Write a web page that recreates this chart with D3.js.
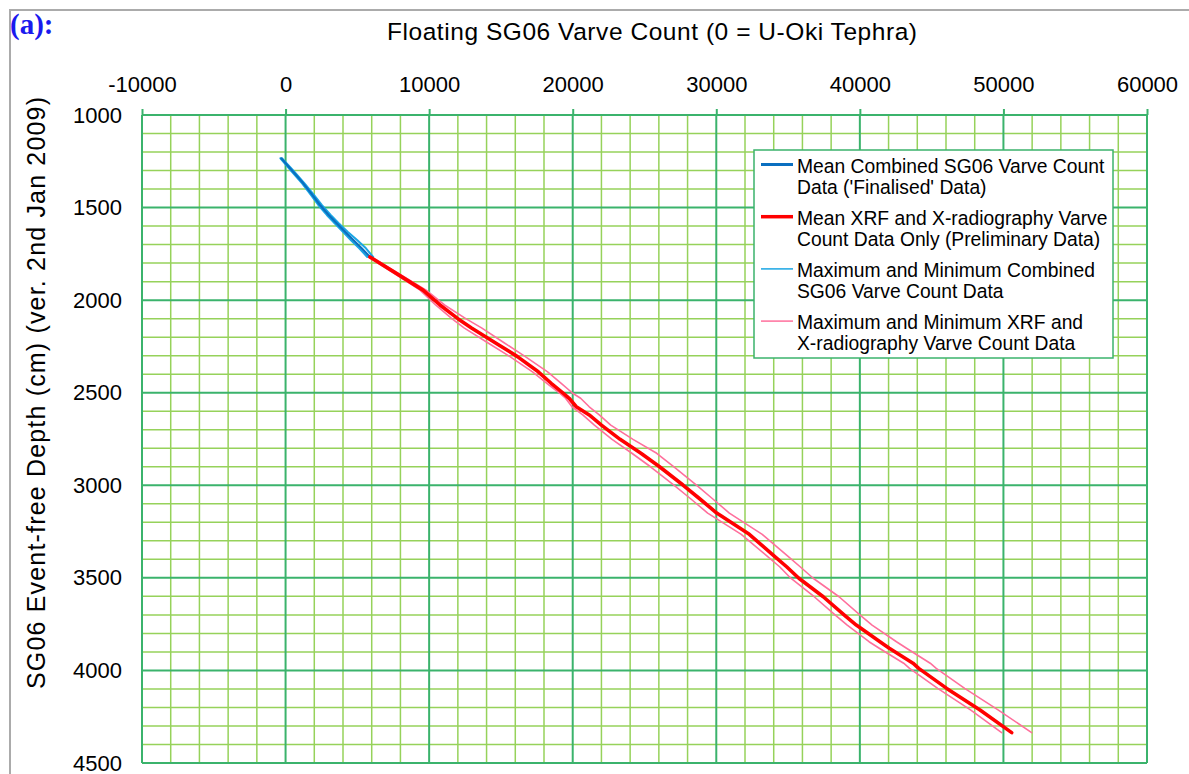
<!DOCTYPE html>
<html>
<head>
<meta charset="utf-8">
<script src="https://cdn.jsdelivr.net/npm/d3@7"></script>
<style>
  html, body { margin: 0; padding: 0; background: #fff; }
  svg { display: block; font-family: Arial, "Liberation Sans", sans-serif; }
</style>
</head>
<body>
<svg id="chart" width="1189" height="774"></svg>
<script>
// Axis ticks
const xTicks = [-10000, 0, 10000, 20000, 30000, 40000, 50000, 60000];
const yTicks = [1000, 1500, 2000, 2500, 3000, 3500, 4000, 4500];

// Combined SG06 varve count (finalised): depth (cm) and varve counts
const combinedDepth = [1234, 1300, 1369, 1430, 1486, 1540, 1585, 1630, 1675, 1720, 1767];
const combinedMean  = [-300, 450, 1233, 1850, 2396, 3000, 3559, 4130, 4716, 5300, 5879];
const combinedMax   = [-240, 530, 1320, 1960, 2520, 3140, 3700, 4320, 4980, 5600, 6100];
const combinedMin   = [-360, 370, 1150, 1750, 2280, 2870, 3420, 3980, 4540, 5130, 5690];

// XRF and X-radiography varve count (preliminary): depth (cm) and varve counts
const xrfDepth = [1767, 1850, 1946, 2026, 2100, 2150, 2230, 2305, 2387, 2449, 2503, 2530, 2576, 2620, 2675,
                  2752, 2827, 2900, 3000, 3070, 3150, 3265, 3380, 3440, 3502, 3602, 3700, 3755, 3845, 3880,
                  3961, 3989, 4097, 4214, 4336];
const xrfMean  = [5879, 7600, 9570, 10754, 12000, 12950, 14600, 16150, 17600, 18500, 19350, 19750, 20250, 21150, 22000,
                  23300, 24750, 26050, 27700, 28800, 30030, 32300, 34000, 34900, 35750, 37450, 38900, 39750, 41400, 42050,
                  43700, 44100, 46050, 48370, 50575];
const xrfMax   = [5960, 7750, 9790, 11070, 12550, 13650, 15220, 16700, 18250, 19200, 20000, 20550, 21150, 21850, 22650,
                  24200, 25850, 27050, 28640, 29700, 30910, 33200, 34940, 35840, 36750, 38550, 40000, 40850, 42550, 43250,
                  44900, 45320, 47300, 49650, 51965];
const xrfMin   = [5760, 7450, 9370, 10450, 11580, 12430, 14080, 15630, 17200, 18200, 19100, 19500, 19950, 20700, 21510,
                  22740, 24120, 25420, 27070, 28170, 29400, 31740, 33500, 34410, 35190, 36820, 38270, 39120, 40640, 41350,
                  43050, 43460, 45420, 47730, 49875];

const legendLines = [
  ["Mean Combined SG06 Varve Count", "Data ('Finalised' Data)"],
  ["Mean XRF and X-radiography Varve", "Count Data Only (Preliminary Data)"],
  ["Maximum and Minimum Combined", "SG06 Varve Count Data"],
  ["Maximum and Minimum XRF and", "X-radiography Varve Count Data"]
];

const svg = d3.select("#chart");
const plot = { left: 142, right: 1147, top: 115, bottom: 763 };

// outer frame
svg.append("rect").attr("x", 10).attr("y", 10).attr("width", 1200).attr("height", 800)
  .attr("fill", "#fff").attr("stroke", "#ababab").attr("stroke-width", 2);

const x = d3.scaleLinear().domain([-10000, 60000]).range([plot.left, plot.right]);
const y = d3.scaleLinear().domain([1000, 4500]).range([plot.top, plot.bottom]);

const majorColor = "#3bb36c";
const minorColor = "#96d25a";

// grid: minor every 2000 varves / 100 cm, major on the labelled ticks
const grid = svg.append("g");
const xMinor = d3.range(-10000, 60001, 2000).filter(v => v % 10000 !== 0);
const yMinor = d3.range(1000, 4501, 100).filter(v => v % 500 !== 0);
grid.selectAll(".vmin").data(xMinor).join("line")
  .attr("x1", d => x(d)).attr("x2", d => x(d)).attr("y1", plot.top).attr("y2", plot.bottom)
  .attr("stroke", minorColor).attr("stroke-width", 1.5);
grid.selectAll(".hmin").data(yMinor).join("line")
  .attr("y1", d => y(d)).attr("y2", d => y(d)).attr("x1", plot.left).attr("x2", plot.right)
  .attr("stroke", minorColor).attr("stroke-width", 1.5);
grid.selectAll(".vmaj").data(xTicks).join("line")
  .attr("x1", d => x(d)).attr("x2", d => x(d)).attr("y1", plot.top).attr("y2", plot.bottom)
  .attr("stroke", majorColor).attr("stroke-width", 2);
grid.selectAll(".hmaj").data(yTicks).join("line")
  .attr("y1", d => y(d)).attr("y2", d => y(d)).attr("x1", plot.left).attr("x2", plot.right)
  .attr("stroke", majorColor).attr("stroke-width", 2);

// top axis
const xAxis = svg.append("g").attr("transform", `translate(0,${plot.top})`)
  .call(d3.axisTop(x).tickValues(xTicks).tickSize(6).tickPadding(17).tickFormat(d => String(d)));
xAxis.select(".domain").remove();
xAxis.selectAll(".tick line").attr("stroke", majorColor).attr("stroke-width", 2);
xAxis.selectAll("text").attr("fill", "#000").style("font-size", "22px")
  .style("font-family", "Arial, 'Liberation Sans', sans-serif");

// left axis
const yAxis = svg.append("g").attr("transform", `translate(${plot.left},0)`)
  .call(d3.axisLeft(y).tickValues(yTicks).tickSize(0).tickPadding(20).tickFormat(d => String(d)));
yAxis.select(".domain").remove();
yAxis.selectAll("text").attr("fill", "#000").style("font-size", "22px")
  .style("font-family", "Arial, 'Liberation Sans', sans-serif");

// series
const line = (xs, ds) => d3.line().x((d, i) => x(xs[i])).y((d, i) => y(ds[i]))(ds);
const series = svg.append("g").attr("fill", "none").attr("stroke-linejoin", "round").attr("stroke-linecap", "round");

series.append("path").attr("d", line(xrfMax, xrfDepth)).attr("stroke", "#ff6f9c").attr("stroke-width", 1.6);
series.append("path").attr("d", line(xrfMin, xrfDepth)).attr("stroke", "#ff6f9c").attr("stroke-width", 1.6);
series.append("path").attr("d", line(combinedMax, combinedDepth)).attr("stroke", "#1aa6e4").attr("stroke-width", 2);
series.append("path").attr("d", line(combinedMin, combinedDepth)).attr("stroke", "#1aa6e4").attr("stroke-width", 2);
series.append("path").attr("d", line(combinedMean, combinedDepth)).attr("stroke", "#0a6fc0").attr("stroke-width", 2.2);
series.append("path").attr("d", line(xrfMean, xrfDepth)).attr("stroke", "#ff0000").attr("stroke-width", 3.6);

// legend
const lg = svg.append("g");
lg.append("rect").attr("x", 754).attr("y", 150).attr("width", 359).attr("height", 208)
  .attr("fill", "#fff").attr("stroke", majorColor).attr("stroke-width", 1.5);
const legendStyle = [
  { color: "#0a6fc0", width: 3 },
  { color: "#ff0000", width: 3.5 },
  { color: "#1aa6e4", width: 1.5 },
  { color: "#ff6f9c", width: 1.5 }
];
legendLines.forEach((lines, i) => {
  const y0 = 166 + i * 52.2;
  lg.append("line").attr("x1", 761).attr("x2", 793).attr("y1", y0 - 1.5).attr("y2", y0 - 1.5)
    .attr("stroke", legendStyle[i].color).attr("stroke-width", legendStyle[i].width);
  lines.forEach((t, j) => {
    lg.append("text").attr("x", 797).attr("y", y0 + j * 21 + 6.8)
      .attr("font-size", 19.3).attr("fill", "#000").text(t);
  });
});

// titles
svg.append("text").attr("x", 652).attr("y", 40).attr("text-anchor", "middle")
  .attr("font-size", 24.5).attr("textLength", 530).attr("fill", "#000")
  .text("Floating SG06 Varve Count (0 = U-Oki Tephra)");
svg.append("text").attr("transform", "translate(45,393) rotate(-90)").attr("text-anchor", "middle")
  .attr("font-size", 25).attr("textLength", 592).attr("fill", "#000")
  .text("SG06 Event-free Depth (cm) (ver. 2nd Jan 2009)");
svg.append("text").attr("x", 10).attr("y", 34)
  .attr("font-family", "'Liberation Serif', 'DejaVu Serif', serif").attr("font-weight", "bold")
  .attr("font-size", 29).attr("fill", "#1a1aee").text("(a):");
</script>
</body>
</html>
